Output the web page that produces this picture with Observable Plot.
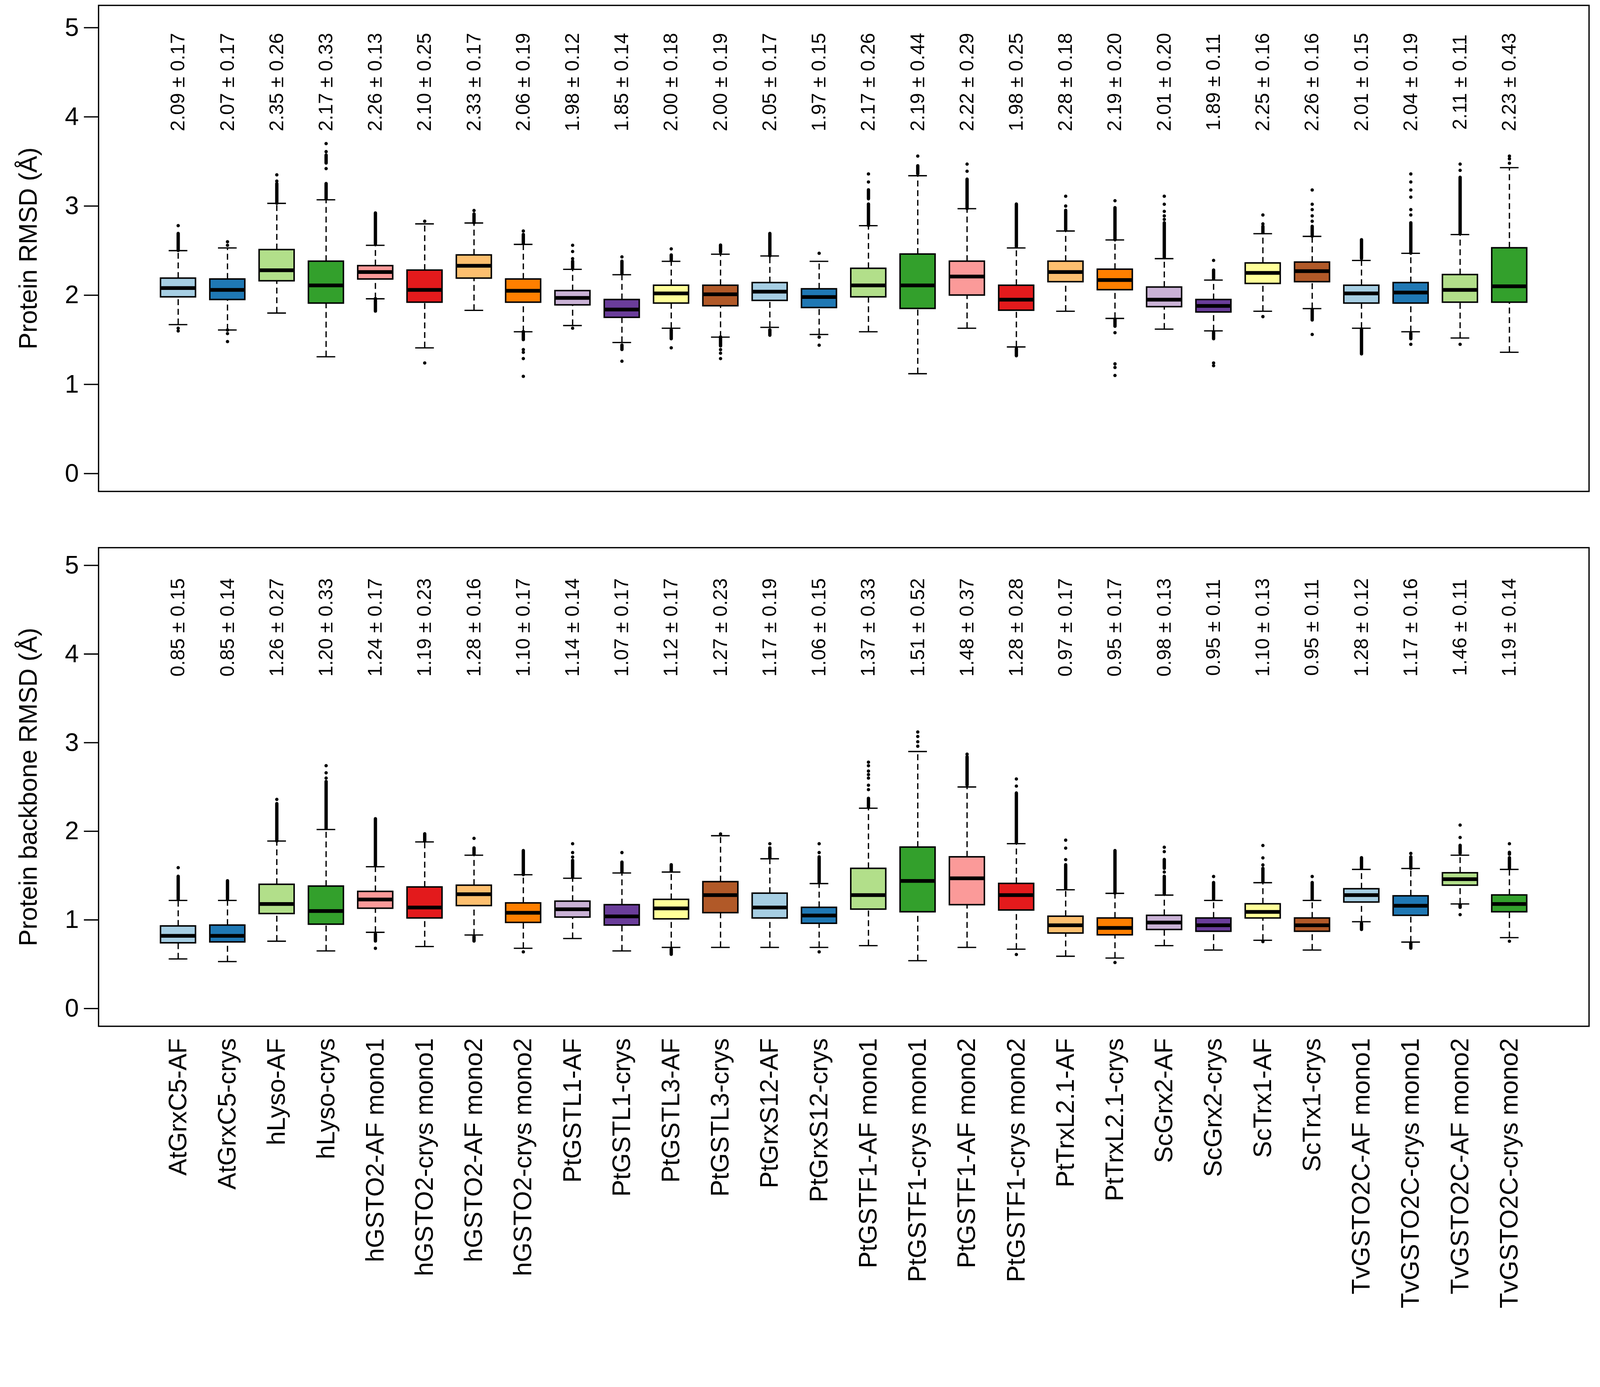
<!DOCTYPE html>
<html>
<head>
<meta charset="utf-8">
<script src="https://cdn.jsdelivr.net/npm/d3@7"></script>
<script src="https://cdn.jsdelivr.net/npm/@observablehq/plot@0.6"></script>
<style>
  html, body { margin: 0; padding: 0; background: white; overflow: hidden; }
  #chart { width: 100%; background: white; }
  #chart svg { display: block; width: 100%; height: auto; max-width: 100%; }
</style>
</head>
<body>
<div id="chart"></div>
<script>
const names = ["AtGrxC5-AF","AtGrxC5-crys","hLyso-AF","hLyso-crys","hGSTO2-AF mono1","hGSTO2-crys mono1","hGSTO2-AF mono2","hGSTO2-crys mono2","PtGSTL1-AF","PtGSTL1-crys","PtGSTL3-AF","PtGSTL3-crys","PtGrxS12-AF","PtGrxS12-crys","PtGSTF1-AF mono1","PtGSTF1-crys mono1","PtGSTF1-AF mono2","PtGSTF1-crys mono2","PtTrxL2.1-AF","PtTrxL2.1-crys","ScGrx2-AF","ScGrx2-crys","ScTrx1-AF","ScTrx1-crys","TvGSTO2C-AF mono1","TvGSTO2C-crys mono1","TvGSTO2C-AF mono2","TvGSTO2C-crys mono2"];
const colors = ["#A6CEE3","#1F78B4","#B2DF8A","#33A02C","#FB9A99","#E31A1C","#FDBF6F","#FF7F00","#CAB2D6","#6A3D9A","#FFFF99","#B15928","#A6CEE3","#1F78B4","#B2DF8A","#33A02C","#FB9A99","#E31A1C","#FDBF6F","#FF7F00","#CAB2D6","#6A3D9A","#FFFF99","#B15928","#A6CEE3","#1F78B4","#B2DF8A","#33A02C"];
const yTicks = [0, 1, 2, 3, 4, 5];

// ---- Top panel: Protein RMSD ----
const topMean = [2.09,2.07,2.35,2.17,2.26,2.10,2.33,2.06,1.98,1.85,2.00,2.00,2.05,1.97,2.17,2.19,2.22,1.98,2.28,2.19,2.01,1.89,2.25,2.26,2.01,2.04,2.11,2.23];
const topSd   = [0.17,0.17,0.26,0.33,0.13,0.25,0.17,0.19,0.12,0.14,0.18,0.19,0.17,0.15,0.26,0.44,0.29,0.25,0.18,0.20,0.20,0.11,0.16,0.16,0.15,0.19,0.11,0.43];
const topQ1  = [1.98,1.95,2.16,1.91,2.18,1.92,2.19,1.92,1.89,1.75,1.91,1.88,1.94,1.86,1.98,1.85,2.00,1.83,2.15,2.06,1.87,1.81,2.13,2.15,1.91,1.91,1.92,1.92];
const topMed = [2.08,2.06,2.28,2.11,2.26,2.06,2.33,2.05,1.97,1.84,2.02,2.01,2.04,1.98,2.11,2.11,2.21,1.95,2.26,2.17,1.95,1.88,2.25,2.27,2.02,2.03,2.06,2.10];
const topQ3  = [2.19,2.18,2.51,2.38,2.33,2.28,2.45,2.18,2.05,1.95,2.11,2.11,2.14,2.07,2.30,2.46,2.38,2.11,2.38,2.29,2.09,1.95,2.36,2.37,2.11,2.14,2.23,2.53];
const topLo  = [1.67,1.61,1.80,1.31,1.96,1.41,1.83,1.59,1.66,1.47,1.63,1.53,1.64,1.56,1.59,1.12,1.63,1.42,1.82,1.74,1.62,1.60,1.82,1.85,1.63,1.59,1.52,1.36];
const topHi  = [2.50,2.53,3.03,3.07,2.56,2.80,2.81,2.57,2.29,2.23,2.38,2.46,2.44,2.38,2.78,3.34,2.97,2.53,2.72,2.62,2.41,2.17,2.69,2.66,2.39,2.47,2.68,3.43];
const topOutPts = [
  [2.78,1.63,1.60],[2.60,2.56,1.61,1.57,1.48],[3.35,3.28],[3.70,3.61,3.42],[],[2.83,1.24],[2.95],[2.72,1.39,1.36,1.29,1.09],
  [2.56,2.49,2.41,1.63],[2.43,1.26],[2.52,1.41],[1.39,1.35,1.29],[],[2.47,1.53,1.44],[3.36,3.27],[3.56],
  [3.47,3.39],[],[3.11,3.00],[3.06,1.58,1.23,1.19,1.10],[3.11,3.02,2.94,2.89,2.85],[2.39,1.24,1.21],[2.90,2.80,1.76],[3.18,3.02,2.96,2.89,2.83,1.56],
  [],[3.36,3.27,3.18,3.10,2.96,2.90,1.45],[3.47,3.40,1.45],[3.56,3.53,3.48]
];
const topOutRuns = [
  [[2.50,2.69]],[],[[3.03,3.25]],[[3.48,3.57],[3.08,3.25]],[[2.57,2.92],[1.82,1.96]],[],[[2.81,2.91]],[[2.58,2.68],[1.50,1.59]],
  [[2.30,2.38]],[[2.24,2.38],[1.39,1.44]],[[2.39,2.45],[1.51,1.61]],[[2.48,2.56],[1.43,1.53]],[[2.44,2.69],[1.55,1.61]],[],[[3.08,3.18],[2.78,3.02]],[[3.36,3.45]],
  [[2.97,3.30]],[[2.54,3.02],[1.32,1.40]],[[2.73,2.95]],[[2.62,2.98],[1.65,1.73]],[[2.42,2.81]],[[2.18,2.28],[1.51,1.59]],[[2.70,2.77]],[[2.66,2.77],[1.72,1.84]],
  [[2.41,2.62],[1.34,1.62]],[[2.47,2.81],[1.51,1.57]],[[2.69,3.32]],[]
];

// ---- Bottom panel: Protein backbone RMSD ----
const botMean = [0.85,0.85,1.26,1.20,1.24,1.19,1.28,1.10,1.14,1.07,1.12,1.27,1.17,1.06,1.37,1.51,1.48,1.28,0.97,0.95,0.98,0.95,1.10,0.95,1.28,1.17,1.46,1.19];
const botSd   = [0.15,0.14,0.27,0.33,0.17,0.23,0.16,0.17,0.14,0.17,0.17,0.23,0.19,0.15,0.33,0.52,0.37,0.28,0.17,0.17,0.13,0.11,0.13,0.11,0.12,0.16,0.11,0.14];
const botQ1  = [0.74,0.75,1.07,0.95,1.13,1.02,1.16,0.97,1.03,0.94,1.01,1.08,1.02,0.96,1.12,1.09,1.17,1.11,0.85,0.83,0.89,0.87,1.02,0.87,1.20,1.05,1.39,1.09];
const botMed = [0.82,0.82,1.18,1.10,1.23,1.14,1.29,1.08,1.12,1.04,1.13,1.28,1.14,1.05,1.28,1.44,1.47,1.28,0.94,0.91,0.97,0.94,1.09,0.94,1.28,1.16,1.46,1.18];
const botQ3  = [0.93,0.94,1.40,1.38,1.32,1.37,1.39,1.19,1.21,1.17,1.23,1.43,1.30,1.14,1.58,1.82,1.71,1.41,1.04,1.02,1.05,1.02,1.18,1.02,1.35,1.27,1.53,1.28];
const botLo  = [0.56,0.53,0.76,0.65,0.86,0.70,0.83,0.68,0.79,0.65,0.69,0.69,0.69,0.69,0.71,0.54,0.69,0.67,0.59,0.57,0.71,0.66,0.77,0.66,0.98,0.75,1.18,0.80];
const botHi  = [1.22,1.22,1.89,2.02,1.60,1.88,1.73,1.51,1.47,1.53,1.54,1.95,1.69,1.41,2.26,2.90,2.50,1.86,1.34,1.30,1.28,1.22,1.42,1.22,1.57,1.58,1.73,1.57];
const botOutPts = [
  [1.59],[],[2.36],[2.74,2.66,2.60],[0.68],[],[1.92],[0.64],
  [1.86,1.76,1.71],[1.76],[],[1.97],[1.86],[1.86,1.76,0.64],[2.78,2.74,2.68,2.64,2.60,2.52,2.47],[3.12,3.07,3.01,2.96],
  [2.87],[2.59,2.51,0.61],[1.90,1.81,1.68],[0.52],[1.82,1.77,1.54],[1.49],[1.84,1.70,1.62,0.755],[1.49],
  [],[1.75],[2.07,1.93,1.06],[1.86,0.76]
];
const botOutRuns = [
  [[1.23,1.49]],[[1.23,1.44]],[[1.89,2.31]],[[2.03,2.56]],[[1.61,2.14],[0.76,0.84]],[[1.89,1.97]],[[1.74,1.81],[0.76,0.81]],[[1.51,1.78]],
  [[1.48,1.67]],[[1.54,1.65]],[[1.55,1.62],[0.61,0.67]],[],[[1.70,1.81]],[[1.42,1.71]],[[2.27,2.37]],[],
  [[2.52,2.84]],[[1.87,2.43]],[[1.35,1.62]],[[1.30,1.78]],[[1.58,1.68],[1.29,1.49]],[[1.23,1.42]],[[1.43,1.58]],[[1.23,1.42]],
  [[1.58,1.70],[0.89,0.96]],[[1.58,1.71],[0.68,0.74]],[[1.75,1.84],[1.14,1.17]],[[1.74,1.76],[1.58,1.70]]
];

function panel(p) {
  const rows = names.map((name, i) => ({
    name, color: colors[i], q1: p.q1[i], med: p.med[i], q3: p.q3[i], lo: p.lo[i], hi: p.hi[i],
    stat: `${p.mean[i].toFixed(2)} ± ${p.sd[i].toFixed(2)}`
  }));
  const pts = names.flatMap((name, i) => p.pts[i].map(v => ({name, v})));
  const runs = names.flatMap((name, i) => p.runs[i].map(([a, b]) => ({name, a, b})));
  const font = "'Liberation Sans', Arial, Helvetica, sans-serif";
  return Plot.plot({
    width: 4310,
    height: p.height,
    marginLeft: 265,
    marginRight: 30,
    marginTop: p.marginTop,
    marginBottom: p.marginBottom,
    style: {fontFamily: font, fontSize: "68px", background: "white", color: "black", overflow: "visible"},
    x: {type: "band", domain: names, paddingInner: 0.29, paddingOuter: 1.26, round: false, axis: null},
    y: {domain: p.yDomain, axis: null},
    color: {type: "identity"},
    marks: [
      Plot.ruleX(rows, {x: "name", y1: "q3", y2: "hi", stroke: "black", strokeWidth: 3.5, strokeDasharray: "16,10"}),
      Plot.ruleX(rows, {x: "name", y1: "lo", y2: "q1", stroke: "black", strokeWidth: 3.5, strokeDasharray: "16,10"}),
      Plot.tickY(rows, {x: "name", y: "hi", insetLeft: 22, insetRight: 22, stroke: "black", strokeWidth: 3.5}),
      Plot.tickY(rows, {x: "name", y: "lo", insetLeft: 22, insetRight: 22, stroke: "black", strokeWidth: 3.5}),
      Plot.barY(rows, {x: "name", y1: "q1", y2: "q3", fill: "color", stroke: "black", strokeWidth: 4}),
      Plot.tickY(rows, {x: "name", y: "med", stroke: "black", strokeWidth: 10}),
      Plot.ruleX(runs, {x: "name", y1: "a", y2: "b", stroke: "black", strokeWidth: 9, strokeLinecap: "round"}),
      Plot.dot(pts, {x: "name", y: "v", r: 4.5, fill: "black", stroke: null}),
      Plot.text(rows, {x: "name", y: () => p.statY, text: "stat", rotate: -90, fontSize: 53, fontFamily: font, textAnchor: "middle", lineAnchor: "middle", fill: "black"}),
      Plot.frame({stroke: "black", strokeWidth: 3.5}),
      Plot.axisY({ticks: yTicks, tickFormat: d => String(d), tickSize: 39, tickPadding: 14, stroke: "black", strokeWidth: 3.5, fontSize: 68, fontFamily: font, fill: "black", label: null}),
      Plot.text([p.label], {text: d => d, frameAnchor: "left", dx: -188, rotate: -90, fontSize: 68, fontFamily: font, textAnchor: "middle", lineAnchor: "middle", fill: "black"}),
      p.showX ? Plot.axisX({tickRotate: -90, tickSize: 0, tickPadding: 32, fontSize: 68, fontFamily: font, fill: "black", label: null}) : null
    ]
  });
}

const chart = document.getElementById("chart");
chart.append(panel({
  q1: topQ1, med: topMed, q3: topQ3, lo: topLo, hi: topHi, pts: topOutPts, runs: topOutRuns,
  mean: topMean, sd: topSd, statY: 4.39, label: "Protein RMSD (Å)", yDomain: [-0.2, 5.25],
  height: 1400, marginTop: 14, marginBottom: 77, showX: false
}));
chart.append(panel({
  q1: botQ1, med: botMed, q3: botQ3, lo: botLo, hi: botHi, pts: botOutPts, runs: botOutRuns,
  mean: botMean, sd: botSd, statY: 4.30, label: "Protein backbone RMSD (Å)", yDomain: [-0.2, 5.2],
  height: 2150, marginTop: 75, marginBottom: 786, showX: true
}));
</script>
</body>
</html>
